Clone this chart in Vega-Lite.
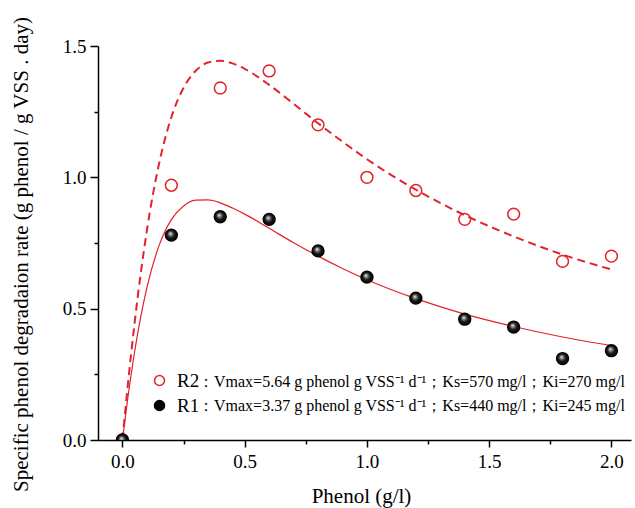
{
  "$schema": "https://vega.github.io/schema/vega-lite/v6.json",
  "autosize": "none",
  "width": 533,
  "height": 394,
  "padding": {"left": 98, "top": 46, "right": 4, "bottom": 68},
  "background": "white",
  "config": {
    "view": {"stroke": null},
    "font": "Liberation Serif",
    "axis": {"labelFont": "Liberation Serif", "titleFont": "Liberation Serif", "domainColor": "black", "tickColor": "black", "labelColor": "black", "titleColor": "black", "grid": false, "domainWidth": 1.5, "tickWidth": 1.5, "titleFontWeight": "normal"}
  },
  "datasets": {
    "pts": [
      {"x": 0.0, "y": 0.0, "series": "R2"},
      {"x": 0.2, "y": 0.97, "series": "R2"},
      {"x": 0.4, "y": 1.34, "series": "R2"},
      {"x": 0.6, "y": 1.405, "series": "R2"},
      {"x": 0.8, "y": 1.20, "series": "R2"},
      {"x": 1.0, "y": 1.00, "series": "R2"},
      {"x": 1.2, "y": 0.95, "series": "R2"},
      {"x": 1.4, "y": 0.84, "series": "R2"},
      {"x": 1.6, "y": 0.86, "series": "R2"},
      {"x": 1.8, "y": 0.68, "series": "R2"},
      {"x": 2.0, "y": 0.70, "series": "R2"},
      {"x": 0.0, "y": 0.0, "series": "R1"},
      {"x": 0.2, "y": 0.78, "series": "R1"},
      {"x": 0.4, "y": 0.85, "series": "R1"},
      {"x": 0.6, "y": 0.84, "series": "R1"},
      {"x": 0.8, "y": 0.72, "series": "R1"},
      {"x": 1.0, "y": 0.62, "series": "R1"},
      {"x": 1.2, "y": 0.54, "series": "R1"},
      {"x": 1.4, "y": 0.46, "series": "R1"},
      {"x": 1.6, "y": 0.43, "series": "R1"},
      {"x": 1.8, "y": 0.31, "series": "R1"},
      {"x": 2.0, "y": 0.34, "series": "R1"}
    ],
    "fit": [
      {"x": 0.0, "y": 0.0, "series": "R2"},
      {"x": 0.02, "y": 0.191, "series": "R2"},
      {"x": 0.05, "y": 0.448, "series": "R2"},
      {"x": 0.1, "y": 0.798, "series": "R2"},
      {"x": 0.15, "y": 1.053, "series": "R2"},
      {"x": 0.2, "y": 1.229, "series": "R2"},
      {"x": 0.25, "y": 1.341, "series": "R2"},
      {"x": 0.3, "y": 1.406, "series": "R2"},
      {"x": 0.35, "y": 1.437, "series": "R2"},
      {"x": 0.4, "y": 1.444, "series": "R2"},
      {"x": 0.45, "y": 1.434, "series": "R2"},
      {"x": 0.5, "y": 1.413, "series": "R2"},
      {"x": 0.6, "y": 1.352, "series": "R2"},
      {"x": 0.7, "y": 1.280, "series": "R2"},
      {"x": 0.8, "y": 1.206, "series": "R2"},
      {"x": 0.9, "y": 1.136, "series": "R2"},
      {"x": 1.0, "y": 1.069, "series": "R2"},
      {"x": 1.2, "y": 0.953, "series": "R2"},
      {"x": 1.4, "y": 0.856, "series": "R2"},
      {"x": 1.6, "y": 0.775, "series": "R2"},
      {"x": 1.8, "y": 0.706, "series": "R2"},
      {"x": 2.0, "y": 0.649, "series": "R2"},
      {"x": 0.0, "y": 0.0, "series": "R1"},
      {"x": 0.02, "y": 0.146, "series": "R1"},
      {"x": 0.05, "y": 0.337, "series": "R1"},
      {"x": 0.1, "y": 0.580, "series": "R1"},
      {"x": 0.15, "y": 0.741, "series": "R1"},
      {"x": 0.2, "y": 0.839, "series": "R1"},
      {"x": 0.25, "y": 0.891, "series": "R1"},
      {"x": 0.3, "y": 0.913, "series": "R1"},
      {"x": 0.35, "y": 0.914, "series": "R1"},
      {"x": 0.4, "y": 0.903, "series": "R1"},
      {"x": 0.45, "y": 0.883, "series": "R1"},
      {"x": 0.5, "y": 0.860, "series": "R1"},
      {"x": 0.6, "y": 0.806, "series": "R1"},
      {"x": 0.7, "y": 0.751, "series": "R1"},
      {"x": 0.8, "y": 0.700, "series": "R1"},
      {"x": 0.9, "y": 0.653, "series": "R1"},
      {"x": 1.0, "y": 0.610, "series": "R1"},
      {"x": 1.2, "y": 0.538, "series": "R1"},
      {"x": 1.4, "y": 0.479, "series": "R1"},
      {"x": 1.6, "y": 0.432, "series": "R1"},
      {"x": 1.8, "y": 0.392, "series": "R1"},
      {"x": 2.0, "y": 0.359, "series": "R1"}
    ]
  },
  "encoding": {
    "x": {
      "field": "x", "type": "quantitative",
      "scale": {"domain": [-0.1, 2.08], "nice": false, "zero": false},
      "axis": {
        "title": "Phenol (g/l)",
        "values": [0, 0.25, 0.5, 0.75, 1, 1.25, 1.5, 1.75, 2],
        "labelExpr": "datum.value % 0.5 === 0 ? format(datum.value, '.1f') : ''",
        "tickSize": {"condition": {"test": "datum.value % 0.5 === 0", "value": 7}, "value": 4},
        "labelFontSize": 19, "titleFontSize": 21, "labelPadding": 5,
        "titleX": 263, "titleY": 56, "titleAlign": "center", "titleBaseline": "middle"
      }
    },
    "y": {
      "field": "y", "type": "quantitative",
      "scale": {"domain": [0, 1.5], "nice": false},
      "axis": {
        "title": "Specific phenol degradaion rate (g phenol / g VSS . day)",
        "values": [0, 0.25, 0.5, 0.75, 1, 1.25, 1.5],
        "labelExpr": "datum.value % 0.5 === 0 ? format(datum.value, '.1f') : ''",
        "tickSize": {"condition": {"test": "datum.value % 0.5 === 0", "value": 8}, "value": 4},
        "labelFontSize": 19, "titleFontSize": 21, "labelPadding": 4,
        "titleX": -77, "titleY": 208, "titleAngle": 270, "titleAlign": "center", "titleBaseline": "middle"
      }
    }
  },
  "layer": [
    {
      "data": {"name": "fit"},
      "transform": [{"filter": "datum.series === 'R2'"}],
      "mark": {"type": "line", "color": "#e0242b", "strokeWidth": 2, "strokeDash": [8, 5], "interpolate": "monotone"}
    },
    {
      "data": {"name": "fit"},
      "transform": [{"filter": "datum.series === 'R1'"}],
      "mark": {"type": "line", "color": "#e0242b", "strokeWidth": 1.2, "interpolate": "monotone"}
    },
    {
      "data": {"name": "pts"},
      "mark": {"type": "point", "size": 140, "strokeWidth": 1.5, "opacity": 1, "clip": true},
      "encoding": {
        "stroke": {
          "field": "series", "type": "nominal",
          "scale": {"domain": ["R2", "R1"], "range": ["#e0242b", "#000000"]},
          "legend": {"title": null, "orient": "none", "legendX": 52, "legendY": 325, "labelFontSize": 19, "symbolSize": 100, "rowPadding": 5, "labelOffset": 8, "labelFont": "Liberation Serif", "labelColor": "black"}
        },
        "fill": {
          "field": "series", "type": "nominal",
          "scale": {"domain": ["R2", "R1"], "range": ["transparent", "#000000"]},
          "legend": {"title": null, "orient": "none", "legendX": 52, "legendY": 325, "labelFontSize": 19, "symbolSize": 100, "rowPadding": 5, "labelOffset": 8, "labelFont": "Liberation Serif", "labelColor": "black"}
        },
        "shape": {
          "field": "series", "type": "nominal",
          "scale": {"domain": ["R2", "R1", "none"], "range": ["circle", "circle", "circle"]},
          "legend": {"title": null, "orient": "none", "legendX": 84, "legendY": 328, "values": ["R2", "R1"], "labelFontSize": 16, "labelLimit": 600, "symbolSize": 0, "symbolOpacity": 0, "symbolStrokeWidth": 0, "labelOffset": 0, "rowPadding": 8, "labelFont": "Liberation Serif", "labelColor": "black",
            "labelExpr": "datum.value === 'R2' ? '：Vmax=5.64 g phenol g VSS⁻¹ d⁻¹；Ks=570 mg/l；Ki=270 mg/l' : '：Vmax=3.37 g phenol g VSS⁻¹ d⁻¹；Ks=440 mg/l；Ki=245 mg/l'"}
        }
      }
    },
    {
      "data": {"name": "pts"},
      "transform": [{"filter": "datum.series === 'R1'"}],
      "mark": {"type": "point", "shape": "circle", "size": 140, "filled": true, "opacity": 1, "clip": true,
        "fill": {"gradient": "radial", "x1": 0.4, "y1": 0.35, "r1": 0, "x2": 0.5, "y2": 0.5, "r2": 0.55,
          "stops": [{"offset": 0, "color": "#ffffff"}, {"offset": 0.2, "color": "#9a9a9a"}, {"offset": 0.55, "color": "#1a1a1a"}, {"offset": 1, "color": "#000000"}]}}
    }
  ]
}
